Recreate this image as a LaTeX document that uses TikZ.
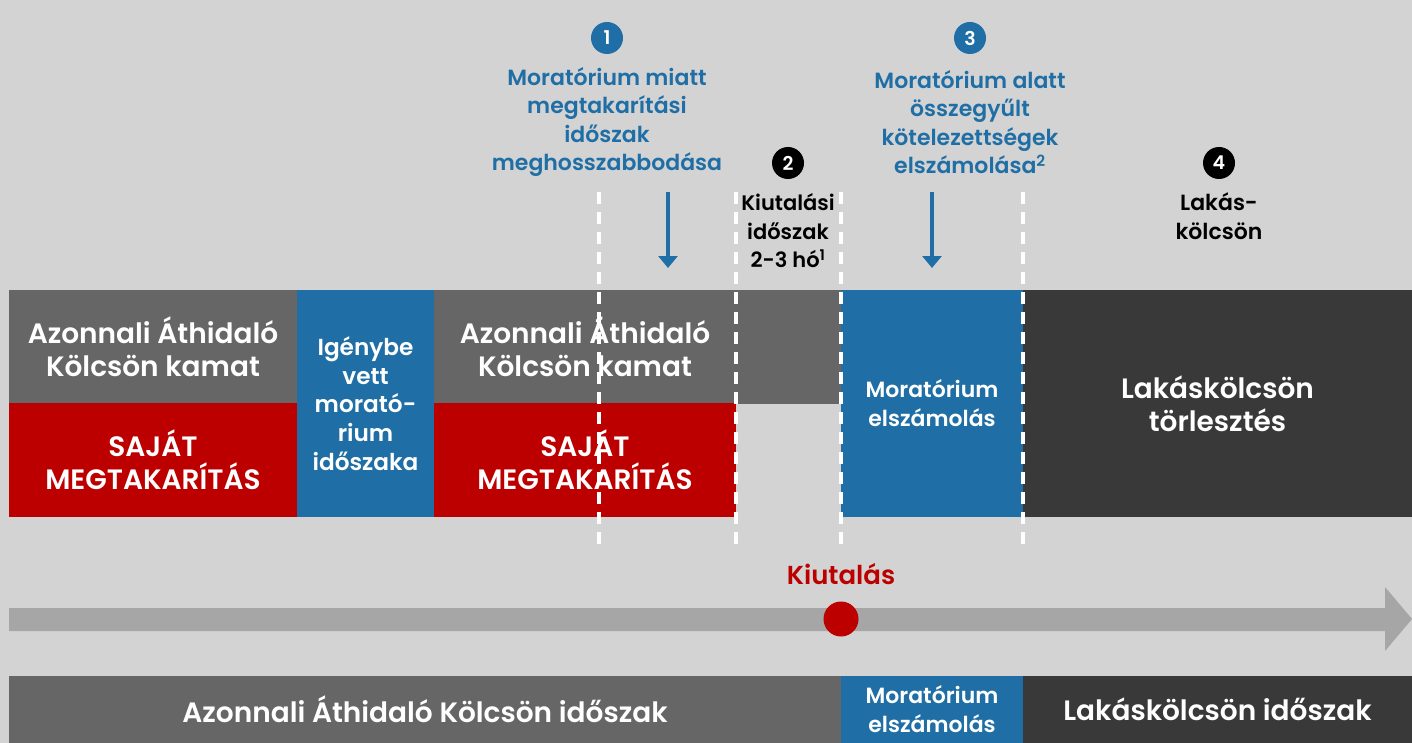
\documentclass[tikz,border=0pt]{standalone}
\usepackage{fontspec}
\setmainfont{Poppins}[BoldFont={Poppins SemiBold}]
\usetikzlibrary{arrows.meta}
\definecolor{bg}{RGB}{211,211,211}
\definecolor{mgray}{RGB}{102,102,102}
\definecolor{mred}{RGB}{188,0,0}
\definecolor{mblue}{RGB}{31,110,165}
\definecolor{mdark}{RGB}{57,57,57}
\definecolor{tgray}{RGB}{166,166,166}
\tikzset{
  blk/.style={anchor=north west, inner sep=0pt, outer sep=0pt, text=white, align=center},
  big/.style={font=\bfseries\fontsize{28}{33}\selectfont},
  mid/.style={font=\bfseries\fontsize{22}{29}\selectfont},
  midp/.style={font=\bfseries\fontsize{23.2}{28.8}\selectfont},
  lab/.style={font=\bfseries\fontsize{22}{28.5}\selectfont, align=center},
  labs/.style={font=\bfseries\fontsize{21}{28.5}\selectfont, align=center},
  numc/.style={circle, minimum size=32pt, inner sep=0pt, text=white, font=\bfseries\fontsize{19}{19}\selectfont},
  darr/.style={mblue, line width=3.5pt, -{Triangle[width=19pt,length=12pt]}},
  dsh/.style={white, line width=4pt, dash pattern=on 12pt off 8pt},
}
\begin{document}
\begin{tikzpicture}[x=1pt,y=-1pt]
\useasboundingbox (0,0) rectangle (1412,743);
\fill[bg] (0,0) rectangle (1412,743);

% top band boxes
\node[blk, big, fill=mgray, minimum width=288pt, minimum height=113pt] (g1) at (9,290) {Azonnali Áthidaló\\Kölcsön kamat};
\node[blk, big, fill=mred, minimum width=288pt, minimum height=114pt] (r1) at (9,403) {SAJÁT\\MEGTAKARÍTÁS};
\node[blk, midp, fill=mblue, minimum width=137pt, minimum height=227pt] (b1) at (297,290) {Igénybe\\vett\\morató-\\rium\\időszaka};
\node[blk, big, fill=mgray, minimum width=302pt, minimum height=113pt] (g2) at (434,290) {Azonnali Áthidaló\\Kölcsön kamat};
\node[blk, big, fill=mred, minimum width=302pt, minimum height=114pt] (r2) at (434,403) {SAJÁT\\MEGTAKARÍTÁS};
\node[blk, fill=mgray, minimum width=105pt, minimum height=114pt] (g3) at (736,290) {};
\node[blk, mid, fill=mblue, minimum width=182pt, minimum height=227pt] (b2) at (841,290) {Moratórium\\elszámolás};
\node[blk, big, fill=mdark, minimum width=389pt, minimum height=227pt] (d1) at (1023,290) {Lakáskölcsön\\törlesztés};

% dashed separators
\coordinate (s1t) at (599,192); \coordinate (s1b) at (599,547);
\coordinate (s2t) at (736,192); \coordinate (s2b) at (736,547);
\coordinate (s3t) at (841,192); \coordinate (s3b) at (841,547);
\coordinate (s4t) at (1023,192); \coordinate (s4b) at (1023,547);
\draw[dsh] (s1t) -- (s1b);
\draw[dsh] (s2t) -- (s2b);
\draw[dsh] (s3t) -- (s3b);
\draw[dsh] (s4t) -- (s4b);

% numbered labels
\node[numc, fill=mblue] (c1) at (607,38) {1};
\node[numc, fill=black] (c2) at (788,163) {2};
\node[numc, fill=mblue] (c3) at (970,38) {3};
\node[numc, fill=black] (c4) at (1219,163) {4};

\node[lab, text=mblue] (t1) at (607,122) {Moratórium miatt\\megtakarítási\\időszak\\meghosszabbodása};
\node[labs] (t2) at (788,231) {Kiutalási\\időszak\\2-3 hó\textsuperscript{1}};
\node[lab, text=mblue] (t3) at (970,122) {Moratórium alatt\\összegyűlt\\kötelezettségek\\elszámolása\textsuperscript{2}};
\node[lab] (t4) at (1219,216) {Lakás-\\kölcsön};

% down arrows
\coordinate (a1s) at (668,192); \coordinate (a1e) at (668,268);
\coordinate (a3s) at (932,192); \coordinate (a3e) at (932,268);
\draw[darr] (a1s) -- (a1e);
\draw[darr] (a3s) -- (a3e);

% timeline
\fill[tgray] (9,608) -- (1385,608) -- (1385,587) -- (1412,619) -- (1385,651) -- (1385,631) -- (9,631) -- cycle;
\node[circle, fill=mred, minimum size=35pt, inner sep=0pt] (kd) at (841,619) {};
\node[font=\bfseries\fontsize{26}{26}\selectfont, text=mred, inner sep=0pt] (kl) at (841,574) {Kiutalás};

% bottom band
\node[blk, big, fill=mgray, minimum width=832pt, minimum height=67pt] (p1) at (9,676) {Azonnali Áthidaló Kölcsön időszak};
\node[blk, mid, fill=mblue, minimum width=182pt, minimum height=67pt] (p2) at (841,676) {Moratórium\\elszámolás};
\node[blk, big, fill=mdark, minimum width=389pt, minimum height=67pt] (p3) at (1023,676) {Lakáskölcsön időszak};
\end{tikzpicture}
\end{document}
